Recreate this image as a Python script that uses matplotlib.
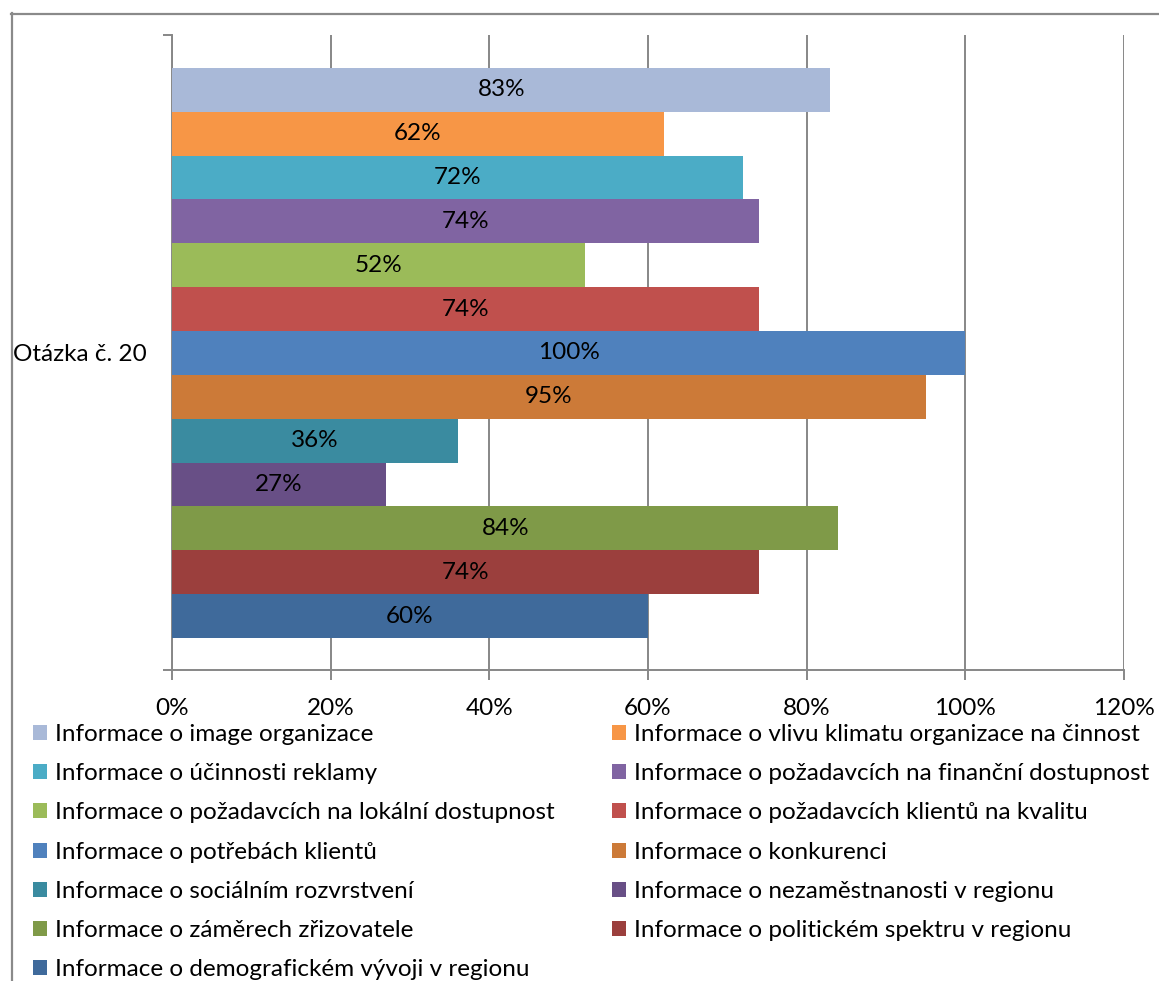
import matplotlib
matplotlib.use("Agg")
import matplotlib.pyplot as plt
from matplotlib.lines import Line2D
from matplotlib.patches import Patch

plt.rcParams['font.family'] = ['Lato', 'DejaVu Sans']

category = "Otázka č. 20"
series_names = [
    "Informace o image organizace",
    "Informace o vlivu klimatu organizace na činnost",
    "Informace o účinnosti reklamy",
    "Informace o požadavcích na finanční dostupnost",
    "Informace o požadavcích na lokální dostupnost",
    "Informace o požadavcích klientů na kvalitu",
    "Informace o potřebách klientů",
    "Informace o konkurenci",
    "Informace o sociálním rozvrstvení",
    "Informace o nezaměstnanosti v regionu",
    "Informace o záměrech zřizovatele",
    "Informace o politickém spektru v regionu",
    "Informace o demografickém vývoji v regionu",
]
values = [83, 62, 72, 74, 52, 74, 100, 95, 36, 27, 84, 74, 60]
colors = [
    "#A9B9D8", "#F79646", "#4BACC6", "#8064A2", "#9BBB59", "#C0504D",
    "#4F81BD", "#CC7A38", "#3A8BA0", "#684F86", "#7F9A48", "#9B3F3D",
    "#3F6A9B",
]
x_ticks = [0, 20, 40, 60, 80, 100, 120]
x_tick_labels = ["0%", "20%", "40%", "60%", "80%", "100%", "120%"]

FS = 17.5
W, H = 1159, 981
fig = plt.figure(figsize=(W / 100, H / 100), dpi=100)

ax_left, ax_right, ax_top, ax_bottom = 172, 1124, 35, 670
ax = fig.add_axes([ax_left / W, 1 - ax_bottom / H,
                   (ax_right - ax_left) / W, (ax_bottom - ax_top) / H])

grid_color = "#878787"
positions = list(range(len(values)))
ax.barh(positions, values, height=1.0, color=colors, edgecolor="none", zorder=3)

for pos, val in zip(positions, values):
    ax.text(val / 2, pos, f"{val}%", ha="center", va="center",
            fontsize=FS, color="black", zorder=4)

ax.set_xlim(0, 120)
ax.set_ylim(13.23, -1.25)

ax.set_xticks(x_ticks)
ax.set_xticklabels(x_tick_labels, fontsize=FS)
ax.tick_params(axis="x", direction="out", length=7.5, width=1.4,
               color=grid_color, pad=13)
ax.xaxis.grid(True, color=grid_color, linewidth=1.4, zorder=0)
ax.set_axisbelow(True)

# y axis: boundary ticks only, category label in the middle
ax.set_yticks([6])
ax.set_yticklabels([category], fontsize=FS)
ax.tick_params(axis="y", which="major", length=0, pad=18)
ax.set_yticks([13.23, -1.25], minor=True)
ax.tick_params(axis="y", which="minor", direction="out", length=6.5,
               width=1.4, color=grid_color)

for side in ("top", "right"):
    ax.spines[side].set_visible(False)
for side in ("left", "bottom"):
    ax.spines[side].set_color(grid_color)
    ax.spines[side].set_linewidth(1.4)

# legend in two columns, row-major order
handles = [Patch(facecolor=c, edgecolor="none") for c in colors]
legend_kw = dict(frameon=False, fontsize=FS, loc="upper left",
                 borderaxespad=0, borderpad=0, handlelength=0.58,
                 handleheight=0.58, handletextpad=0.33, labelspacing=0.75)
left_idx = list(range(0, len(series_names), 2))
right_idx = list(range(1, len(series_names), 2))
leg_top = 724
fig.legend([handles[i] for i in left_idx], [series_names[i] for i in left_idx],
           bbox_to_anchor=(33 / W, 1 - leg_top / H), **legend_kw)
fig.legend([handles[i] for i in right_idx], [series_names[i] for i in right_idx],
           bbox_to_anchor=(612 / W, 1 - leg_top / H), **legend_kw)

# chart area border
border_color = "#8A8A8A"
fig.add_artist(Line2D([11.5 / W, 11.5 / W], [1 - 13 / H, 0], transform=fig.transFigure,
                      color=border_color, linewidth=1.6))
fig.add_artist(Line2D([11 / W, 1], [1 - 13.5 / H, 1 - 13.5 / H], transform=fig.transFigure,
                      color=border_color, linewidth=1.6))

fig.savefig("out.png", dpi=100)
